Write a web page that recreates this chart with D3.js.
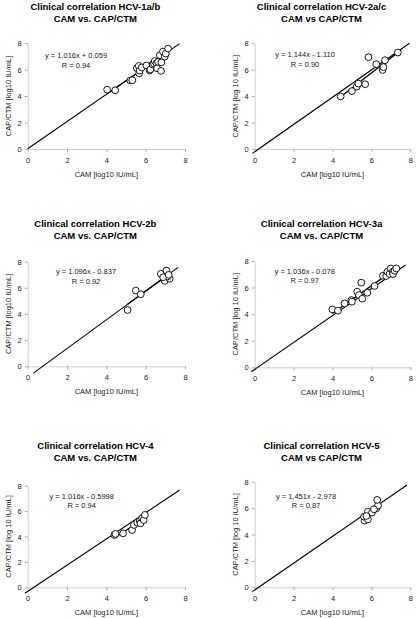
<!DOCTYPE html>
<html><head><meta charset="utf-8">
<script src="https://cdn.jsdelivr.net/npm/d3@7"></script>
<style>body{margin:0;background:#fff}svg{display:block;font-family:Arial,"Liberation Sans",sans-serif}</style>
</head><body><svg id="c" width="416" height="618"></svg>
<script>
// ---------- data ----------
const titleLine1 = ["Clinical correlation HCV-1a/b","Clinical correlation HCV-2a/c","Clinical correlation HCV-2b","Clinical correlation HCV-3a","Clinical correlation HCV-4","Clinical correlation HCV-5"];
const titleLine2 = ["CAM vs. CAP/CTM","CAM vs CAP/CTM","CAM vs. CAP/CTM","CAM vs. CAP/CTM","CAM vs. CAP/CTM","CAM vs CAP/CTM"];
const yTitles = ["CAP/CTM [log10 IU/mL]","CAP/CTM [log 10 IU/mL]","CAP/CTM [log10 IU/mL]","CAP/CTM [log 10 IU/mL]","CAP/CTM [log 10 IU/mL]","CAP/CTM [log 10 IU/mL]"];
const xTitle = "CAM [log10 IU/mL]";
const equations = ["y = 1.016x + 0.059","y = 1.144x - 1.110","y = 1.096x - 0.837","y = 1.036x - 0.078","y = 1.016x - 0.5998","y = 1,451x - 2,978"];
const rLabels = ["R = 0.94","R = 0.90","R = 0.92","R = 0.97","R = 0.94","R = 0,87"];
const slopes = [1.016, 1.144, 1.096, 1.036, 1.016, 1.451];
const intercepts = [0.059, -1.110, -0.837, -0.078, -0.5998, -2.978];
const tickValues = [0, 2, 4, 6, 8];

// CAM (x) and CAP/CTM (y) values per genotype
const cam1a = [4.04,4.45,5.22,5.32,5.55,5.65,5.67,5.7,5.8,6.04,6.2,6.24,6.35,6.42,6.46,6.55,6.58,6.63,6.78,6.8,6.72,6.88,6.97,7.02,7.14];
const ctm1a = [4.48,4.43,5.17,5.19,6.1,6.27,5.71,5.92,6.15,6.3,5.92,6.0,6.38,6.45,6.64,6.47,6.09,6.57,5.89,6.54,7.08,7.35,6.97,7.2,7.58];
const cam2a = [4.42,5.0,5.25,5.33,5.68,5.85,6.25,6.58,6.62,6.7,7.36];
const ctm2a = [3.98,4.38,4.72,4.95,4.9,6.95,6.42,5.98,6.2,6.72,7.3];
const cam2b = [5.08,5.5,5.75,6.77,7.06,6.97,7.22,7.1,6.89,7.17];
const ctm2b = [4.3,5.78,5.5,7.06,7.31,6.52,6.68,6.85,6.8,6.98];
const cam3a = [3.99,4.28,4.62,4.97,5.0,5.27,5.36,5.48,5.53,5.79,6.16,6.59,6.76,6.82,6.93,6.99,7.1,7.11,7.19,7.28];
const ctm3a = [4.36,4.26,4.81,5.06,4.94,5.69,5.44,6.37,5.16,5.61,6.12,6.89,6.87,7.19,7.02,7.44,7.2,7.02,7.27,7.44];
const cam4 = [4.41,4.46,4.85,5.31,5.4,5.57,5.7,5.74,5.82,5.9,5.96];
const ctm4 = [4.12,4.2,4.25,4.51,4.91,5.09,5.22,5.04,5.43,5.3,5.7];
const cam5 = [5.65,5.62,5.82,5.82,6.03,6.25,6.34,6.3,6.13,5.74];
const ctm5 = [5.05,5.35,5.15,5.73,5.66,5.98,6.19,6.62,5.91,5.4];
const camSets = [cam1a, cam2a, cam2b, cam3a, cam4, cam5];
const ctmSets = [ctm1a, ctm2a, ctm2b, ctm3a, ctm4, ctm5];
// long diagonal line drawn in each panel [x0, y0, x1, y1] (data units)
const diagLines = [[0,0.02,7.73,7.95],[-0.12,-0.33,7.96,8.0],[0.29,-0.52,7.65,7.55],[-0.17,-0.33,7.76,7.7],[-0.14,-0.47,7.73,7.66],[-0.12,-0.33,7.83,7.75]];

// ---------- layout (pixels) ----------
const colX = [[27.7,185],[254.7,410.3]];
const rowY = [[149,43],[366.3,261.5],[587.3,485.7],];
const rowYRight = [[149,43.3],[367.3,261],[587.3,481.7]];
const titleBase = [[9.5,22],[227.3,239.2],[449,461.2]];
const eqPos = [[76,55,65],[305,54,64],[86,271.7,281],[304.7,271,280],[81.7,496,505],[306,496,505]];

const svg = d3.select("#c");
for (let i = 0; i < 6; i++) {
  const col = i % 2, row = Math.floor(i / 2);
  const [xa, xb] = colX[col];
  const [ya, yb] = col === 0 ? rowY[row] : rowYRight[row];
  const x = d3.scaleLinear().domain([0, 8]).range([xa, xb]);
  const y = d3.scaleLinear().domain([0, 8]).range([ya, yb]);
  const g = svg.append("g");

  // axes
  const ax = g.append("g").attr("transform", `translate(0,${ya})`)
    .call(d3.axisBottom(x).tickValues(tickValues).tickSize(3).tickSizeOuter(0));
  const ay = g.append("g").attr("transform", `translate(${xa},0)`)
    .call(d3.axisLeft(y).tickValues(tickValues).tickSize(3).tickSizeOuter(0));
  [ax, ay].forEach(a => {
    a.select(".domain").attr("stroke", "#c4c4c4").attr("stroke-width", 0.8);
    a.selectAll(".tick line").attr("stroke", "#999").attr("stroke-width", 0.8);
    a.selectAll(".tick text").attr("font-size", 7.5).attr("fill", "#222").attr("font-family", "Arial, 'Liberation Sans', sans-serif");
  });
  ax.selectAll(".tick text").attr("y", 11).attr("dy", "0.35em");
  ay.selectAll(".tick text").attr("x", -6).attr("dy", "0.35em");

  // titles
  const cx = (xa + xb) / 2;
  g.append("text").attr("x", cx - 11).attr("y", titleBase[row][0]).attr("text-anchor", "middle")
    .attr("font-size", 9.5).attr("font-weight", "bold").text(titleLine1[i]);
  g.append("text").attr("x", cx - 11).attr("y", titleBase[row][1]).attr("text-anchor", "middle")
    .attr("font-size", 9.5).attr("font-weight", "bold").text(titleLine2[i]);
  g.append("text").attr("x", cx).attr("y", ya + 25).attr("dy", "0.35em").attr("text-anchor", "middle")
    .attr("font-size", 7.5).attr("fill", "#222").text(xTitle);
  g.append("text").attr("transform", `translate(${xa - 19},${(ya + yb) / 2}) rotate(-90)`).attr("dy", "0.35em")
    .attr("text-anchor", "middle").attr("font-size", 7.5).attr("fill", "#222").text(yTitles[i]);

  // equation
  const [ex, ey1, ey2] = eqPos[i];
  g.append("text").attr("x", ex).attr("y", ey1).attr("dy", "0.35em").attr("text-anchor", "middle")
    .attr("font-size", 7.5).attr("fill", "#222").text(equations[i]);
  g.append("text").attr("x", ex).attr("y", ey2).attr("dy", "0.35em").attr("text-anchor", "middle")
    .attr("font-size", 7.5).attr("fill", "#222").text(rLabels[i]);

  // long diagonal
  const d = diagLines[i];
  g.append("line").attr("x1", x(d[0])).attr("y1", y(d[1])).attr("x2", x(d[2])).attr("y2", y(d[3]))
    .attr("stroke", "#000").attr("stroke-width", 1.1);
  // regression over data range
  const xs = camSets[i], ys = ctmSets[i];
  const [mn, mx] = d3.extent(xs);
  const f = v => slopes[i] * v + intercepts[i];
  g.append("line").attr("x1", x(mn)).attr("y1", y(f(mn))).attr("x2", x(mx)).attr("y2", y(f(mx)))
    .attr("stroke", "#000").attr("stroke-width", 1.3);

  // points
  g.append("g").selectAll("circle").data(xs.map((v, k) => [v, ys[k]])).join("circle")
    .attr("cx", p => x(p[0])).attr("cy", p => y(p[1])).attr("r", 3.4)
    .attr("fill", "#fff").attr("stroke", "#000").attr("stroke-width", 0.9);
}
</script></body></html>
